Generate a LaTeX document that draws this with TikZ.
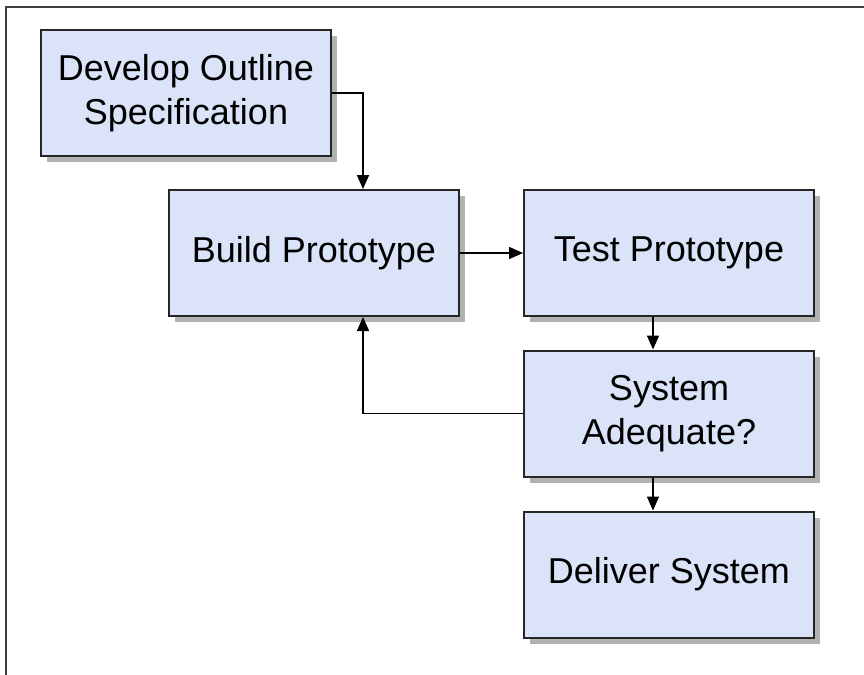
\documentclass[tikz,border=0pt]{standalone}
\usepackage{fontspec}
\setmainfont{Liberation Sans}
\usetikzlibrary{arrows.meta,shadows}
\definecolor{boxblue}{RGB}{218,227,248}
\tikzset{
  stage/.style={draw=black!85,line width=1pt,fill=boxblue,minimum width=145pt,minimum height=63pt,
    inner sep=0pt,align=center,font=\fontsize{18}{22}\selectfont,
    drop shadow={shadow xshift=3pt,shadow yshift=-3pt,fill=black!30,opacity=1}},
  flow/.style={-{Triangle[length=7pt,width=6pt]},line width=0.75pt}
}
\begin{document}
\begin{tikzpicture}[x=0.5pt,y=-0.5pt]
\useasboundingbox (0,0) rectangle (864,675);
\draw[line width=1pt,black!75](5.5,675)--(5.5,7)--(864,7);
\node[stage](spec) at (186,93) {Develop Outline\\Specification};
\node[stage](build) at (314,253) {Build Prototype};
\node[stage](test) at (669,253) {Test Prototype};
\node[stage](adequate) at (669,413.5) {System\\Adequate?};
\node[stage](deliver) at (669,574.5) {Deliver System};
\draw[flow](spec.east)-|([xshift=24.5pt]build.north);
\draw[flow](build.east)--(test.west);
\draw[flow]([xshift=-8pt]test.south)--([xshift=-8pt]adequate.north);
\draw[flow](adequate.west)-|([xshift=24.5pt]build.south);
\draw[flow]([xshift=-8pt]adequate.south)--([xshift=-8pt]deliver.north);
\end{tikzpicture}
\end{document}
